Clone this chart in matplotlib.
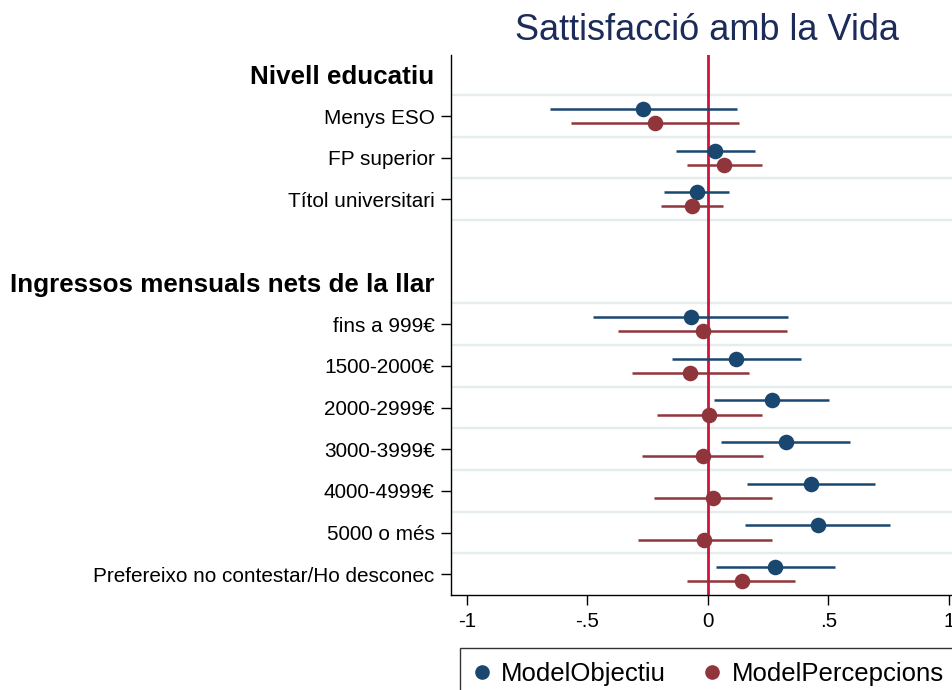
import matplotlib
matplotlib.use("Agg")
import matplotlib.pyplot as plt
from matplotlib.lines import Line2D
import numpy as np

# ---- data ----
row_labels = ["Nivell educatiu", "Menys ESO", "FP superior", "Títol universitari", "",
              "Ingressos mensuals nets de la llar", "fins a 999€", "1500-2000€", "2000-2999€",
              "3000-3999€", "4000-4999€", "5000 o més", "Prefereixo no contestar/Ho desconec"]
heading_rows = [0, 5]
coef_rows = [1, 2, 3, 6, 7, 8, 9, 10, 11, 12]

obj_est = [-0.267, 0.032, -0.046, -0.071, 0.119, 0.265, 0.323, 0.429, 0.456, 0.281]
obj_lo = [-0.654, -0.131, -0.180, -0.477, -0.148, 0.028, 0.055, 0.163, 0.155, 0.033]
obj_hi = [0.120, 0.198, 0.090, 0.335, 0.387, 0.503, 0.592, 0.694, 0.755, 0.527]

per_est = [-0.219, 0.068, -0.066, -0.020, -0.072, 0.007, -0.021, 0.023, -0.014, 0.141]
per_lo = [-0.567, -0.087, -0.195, -0.371, -0.313, -0.210, -0.271, -0.223, -0.290, -0.085]
per_hi = [0.130, 0.224, 0.063, 0.330, 0.170, 0.225, 0.229, 0.265, 0.265, 0.363]

grid_rows = [0.5, 1.5, 2.5, 3.5, 5.5, 6.5, 7.5, 8.5, 9.5, 10.5, 11.5]
xticks = [-1, -0.5, 0, 0.5, 1]
xticklabels = ["-1", "-.5", "0", ".5", "1"]
series_names = ["ModelObjectiu", "ModelPercepcions"]

title = "Sattisfacció amb la Vida"

# ---- style ----
plt.rcParams['font.family'] = ['Liberation Sans', 'DejaVu Sans']
c_obj = '#1a476f'
c_per = '#90353b'
c_ref = '#d6103c'
c_grid = '#e4ecee'
c_title = '#1c2b59'
offset = 0.17

fig = plt.figure(figsize=(9.53, 6.90), dpi=100)
ax = fig.add_axes([450.7 / 953, 1 - 595 / 690, 1 - 450.7 / 953, (595 - 55) / 690])

for g in grid_rows:
    ax.axhline(g, color=c_grid, lw=1.7, zorder=0)

ax.axvline(0, color=c_ref, lw=2.0, zorder=1)

rows = np.array(coef_rows, dtype=float)
for est, lo, hi, col, off in [(obj_est, obj_lo, obj_hi, c_obj, -offset),
                              (per_est, per_lo, per_hi, c_per, offset)]:
    y = rows + off
    ax.hlines(y, lo, hi, color=col, lw=1.8, zorder=2)
    ax.plot(est, y, 'o', color=col, ms=10.2, mec=col, zorder=3, ls='none')

ax.set_xlim(-1.0664, 1.0178)
ax.set_ylim(12.5, -0.465)

ax.set_xticks(xticks)
ax.set_xticklabels(xticklabels, fontsize=14.8)
ax.set_yticks(range(len(row_labels)))
ax.set_yticklabels(row_labels, fontsize=14.95)
ax.tick_params(axis='y', length=7.2, width=1.0, pad=4.3)
ax.tick_params(axis='x', length=7.2, width=1.0, pad=5)

yt = ax.yaxis.get_major_ticks()
for i in heading_rows + [4]:
    yt[i].tick1line.set_visible(False)
for i in heading_rows:
    yt[i].label1.set_fontweight('bold')
    yt[i].label1.set_fontsize(18.7)

for s in ['top', 'right']:
    ax.spines[s].set_visible(False)
for s in ['left', 'bottom']:
    ax.spines[s].set_linewidth(1.0)

fig.text(707 / 953, 1 - 30 / 690, title, ha='center', va='center', fontsize=26, color=c_title)

handles = [Line2D([], [], marker='o', ls='none', color=c, ms=9.5) for c in (c_obj, c_per)]
leg = fig.legend(handles, series_names, loc='upper left',
                 bbox_to_anchor=(460 / 953, 1 - 648 / 690), bbox_transform=fig.transFigure,
                 ncol=2, fontsize=18.5, frameon=True, fancybox=False, borderpad=0.55,
                 handlelength=0.6, handletextpad=0.45, columnspacing=1.5, borderaxespad=0)
leg.get_frame().set_edgecolor('black')
leg.get_frame().set_linewidth(1.0)

fig.savefig('out.png', dpi=100)
